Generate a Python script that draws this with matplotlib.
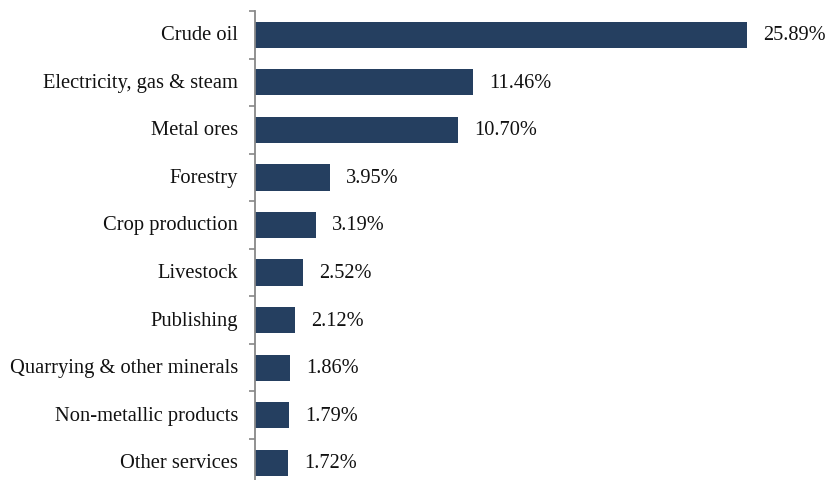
import matplotlib.pyplot as plt
import numpy as np

# Share of output by sector (%)
sectors = ['Crude oil', 'Electricity, gas & steam', 'Metal ores', 'Forestry',
           'Crop production', 'Livestock', 'Publishing',
           'Quarrying & other minerals', 'Non-metallic products', 'Other services']
shares = [25.89, 11.46, 10.70, 3.95, 3.19, 2.52, 2.12, 1.86, 1.79, 1.72]

plt.rcParams['font.family'] = ['Liberation Serif', 'DejaVu Serif']

fig = plt.figure(figsize=(8.27, 4.81), dpi=100)
ax = fig.add_axes([255 / 827, -6.5 / 481, 572 / 827, 475.5 / 481])

y = np.arange(len(sectors))
ax.barh(y, shares, height=0.55, color='#253f60', edgecolor='none')

ax.set_ylim(len(sectors) - 0.5, -0.5)
ax.set_xlim(0, 572 / 19.0)

# value labels just past the end of each bar
for yi, v in zip(y, shares):
    ax.text(v + 0.85, yi, f'{v:.2f}%', va='center', ha='left', fontsize=14.7, color='#111111')

# category names on the left, tick marks between categories
for yi, name in zip(y, sectors):
    ax.text(-0.9, yi, name, va='center', ha='right', fontsize=14.8, color='#111111')

ax.set_yticks(np.arange(len(sectors) + 1) - 0.5)
ax.set_yticklabels([])
ax.tick_params(axis='y', direction='out', length=4, width=1.2, color='#888888')
ax.set_xticks([])

for s in ['top', 'right', 'bottom']:
    ax.spines[s].set_visible(False)
ax.spines['left'].set_color('#888888')
ax.spines['left'].set_linewidth(1.3)
ax.patch.set_alpha(0)

fig.savefig('out.png', dpi=100)
